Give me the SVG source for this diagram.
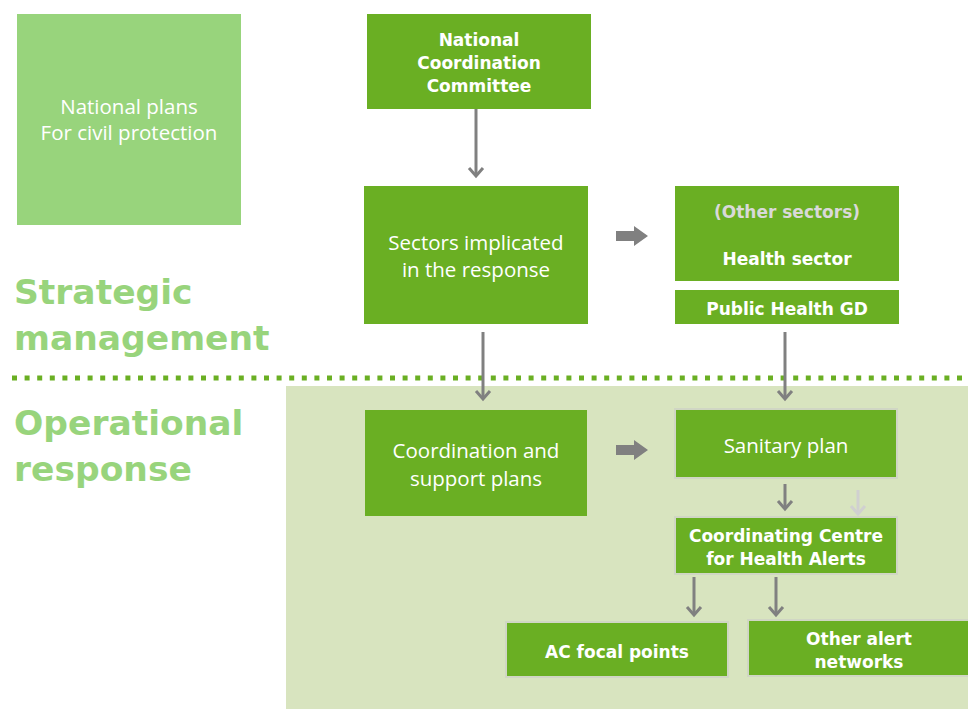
<svg xmlns="http://www.w3.org/2000/svg" width="968" height="709" viewBox="0 0 968 709">
<defs>
<style>
.box{fill:#6aaf23}
.boxb{fill:#6aaf23;stroke:#d0d6c4;stroke-width:2}
.t{font-family:"Open Sans","DejaVu Sans",sans-serif;fill:#ffffff;text-anchor:middle;font-size:20.5px}
.b{font-family:"DejaVu Sans",Verdana,sans-serif;fill:#ffffff;text-anchor:middle;font-size:17px;font-weight:bold}
.big{font-family:"DejaVu Sans",Verdana,sans-serif;fill:#98d47c;font-size:34.5px;font-weight:bold}
.ln{stroke:#808080;stroke-width:3;fill:none}
.lnl{stroke:#d0d0d0;stroke-width:3;fill:none}
</style>
</defs>
<rect x="0" y="0" width="968" height="709" fill="#ffffff"/>
<rect x="286" y="386" width="682" height="323" fill="#d8e4bf"/>
<line x1="12" y1="378" x2="968" y2="378" stroke="#6aaf23" stroke-width="5" stroke-dasharray="5 7.6"/>
<text class="big" x="14" y="304">Strategic</text>
<text class="big" x="14" y="350">management</text>
<text class="big" x="14" y="435">Operational</text>
<text class="big" x="14" y="481">response</text>

<g id="national-plans">
<rect x="17" y="14" width="224" height="211" fill="#98d47c"/>
<text class="t" x="129" y="114">National plans</text>
<text class="t" x="129" y="140">For civil protection</text>
</g>
<g id="ncc">
<rect class="box" x="367" y="14" width="224" height="95"/>
<text class="b" x="479" y="46">National</text>
<text class="b" x="479" y="69">Coordination</text>
<text class="b" x="479" y="92">Committee</text>
</g>
<g id="sectors">
<rect class="box" x="364" y="186" width="224" height="138"/>
<text class="t" x="476" y="250">Sectors implicated</text>
<text class="t" x="476" y="277">in the response</text>
</g>
<g id="health-sector">
<rect class="box" x="675" y="186" width="224" height="95"/>
<text class="b" x="787" y="218" style="fill:#d9d9d9">(Other sectors)</text>
<text class="b" x="787" y="265">Health sector</text>
</g>
<g id="public-health">
<rect class="box" x="675" y="290" width="224" height="34"/>
<text class="b" x="787" y="315">Public Health GD</text>
</g>
<g id="coordination">
<rect class="box" x="365" y="410" width="222" height="106"/>
<text class="t" x="476" y="458">Coordination and</text>
<text class="t" x="476" y="486">support plans</text>
</g>
<g id="sanitary">
<rect class="boxb" x="675" y="409" width="222" height="69"/>
<text class="t" x="786" y="453">Sanitary plan</text>
</g>
<g id="ccha">
<rect class="boxb" x="675" y="517" width="222" height="57"/>
<text class="b" x="786" y="542">Coordinating Centre</text>
<text class="b" x="786" y="565">for Health Alerts</text>
</g>
<g id="ac-focal">
<rect class="boxb" x="506" y="622" width="222" height="55"/>
<text class="b" x="617" y="658">AC focal points</text>
</g>
<g id="other-alert">
<rect class="boxb" x="748" y="620" width="222" height="56"/>
<text class="b" x="859" y="645">Other alert</text>
<text class="b" x="859" y="668">networks</text>
</g>

<g id="connectors">
<line class="ln" x1="476" y1="109" x2="476" y2="176"/>
<polyline class="ln" points="469,168 476,176 483,168"/>
<line class="ln" x1="483" y1="332" x2="483" y2="399"/>
<polyline class="ln" points="476,391 483,399 490,391"/>
<line class="ln" x1="785" y1="332" x2="785" y2="399"/>
<polyline class="ln" points="778,391 785,399 792,391"/>
<line class="ln" x1="785" y1="484" x2="785" y2="509"/>
<polyline class="ln" points="778,501 785,509 792,501"/>
<line class="lnl" x1="858" y1="490" x2="858" y2="514"/>
<polyline class="lnl" points="851,506 858,514 865,506"/>
<line class="ln" x1="694" y1="577" x2="694" y2="615"/>
<polyline class="ln" points="687,607 694,615 701,607"/>
<line class="ln" x1="776" y1="577" x2="776" y2="615"/>
<polyline class="ln" points="769,607 776,615 783,607"/>
<polygon points="616,231 634,231 634,226 648,236 634,246 634,241 616,241" fill="#808080"/>
<polygon points="616,445 634,445 634,440 648,450 634,460 634,455 616,455" fill="#808080"/>
</g>
</svg>
